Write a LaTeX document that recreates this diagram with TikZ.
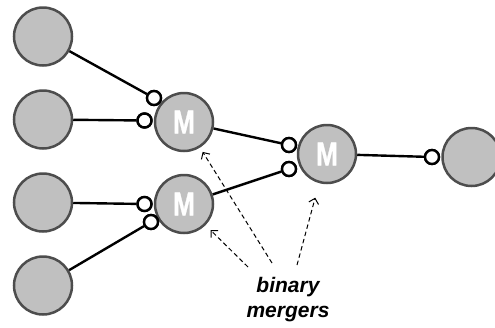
\documentclass[tikz,border=0pt]{standalone}
\usepackage{fontspec}
\setmainfont{Liberation Sans}
\newfontfamily\mfont[FakeBold=1.2]{Liberation Sans Bold}
\usetikzlibrary{arrows.meta,calc}
\definecolor{discfill}{HTML}{C0C0C0}
\definecolor{discline}{HTML}{4D4D4D}
\begin{document}
\begin{tikzpicture}[x=1pt,y=-1pt,
  disc/.style={circle,draw=discline,fill=discfill,line width=2.5pt,minimum size=58pt,inner sep=0pt},
  mdisc/.style={disc,text=white,font=\mfont\fontsize{33}{33}\selectfont},
  port/.style={circle,draw=black,fill=white,line width=2.4pt,minimum size=14pt,inner sep=0pt},
  wire/.style={line width=2.4pt,black},
  hint/.style={line width=1pt,dash pattern=on 4.5pt off 3pt,-{Straight Barb[length=5pt,width=10pt,line width=1pt]}}
]
\useasboundingbox (0,0) rectangle (495,327);
% leaf discs
\node[disc] (L1) at (43,36.5) {};
\node[disc] (L2) at (43,119.5) {};
\node[disc] (L3) at (43,202.5) {};
\node[disc] (L4) at (43,285.5) {};
% merger discs
\node[mdisc] (M1) at (184,122) {\scalebox{0.8}[1]{M}};
\node[mdisc] (M2) at (184,204) {\scalebox{0.8}[1]{M}};
\node[mdisc] (M3) at (327,154) {\scalebox{0.8}[1]{M}};
\node[disc] (R) at (471.5,157) {};
% ports
\node[port] (p1) at (154,98) {};
\node[port] (p2) at (144.5,120.5) {};
\node[port] (p3) at (144.5,204) {};
\node[port] (p4) at (151,222) {};
\node[port] (p5) at (289,145) {};
\node[port] (p6) at (289,169) {};
\node[port] (p7) at (432,157) {};
% wires
\draw[wire] (L1) -- (p1);
\draw[wire] (L2) -- (p2);
\draw[wire] (L3) -- (p3);
\draw[wire] (L4) -- (p4);
\draw[wire] (M1) -- (p5);
\draw[wire] (M2) -- (p6);
\draw[wire] (M3) -- (p7);
% ports drawn again above the wires
\foreach \p in {p1,p2,p3,p4,p5,p6,p7}{\draw[line width=2.4pt,fill=white] (\p) circle (7pt);}
% caption
\node[font=\fontsize{21}{25}\selectfont\bfseries\itshape,align=center,inner sep=0pt] (cap) at (288,299.5) {binary\\mergers};
\coordinate (t1) at (272,263);
\coordinate (t2) at (248,267);
\coordinate (t3) at (297,265);
\draw[hint,shorten >=5pt] (t1) -- (M1);
\draw[hint,shorten >=7pt] (t2) -- (M2);
\draw[hint,shorten >=15pt] (t3) -- (M3);
\end{tikzpicture}
\end{document}
